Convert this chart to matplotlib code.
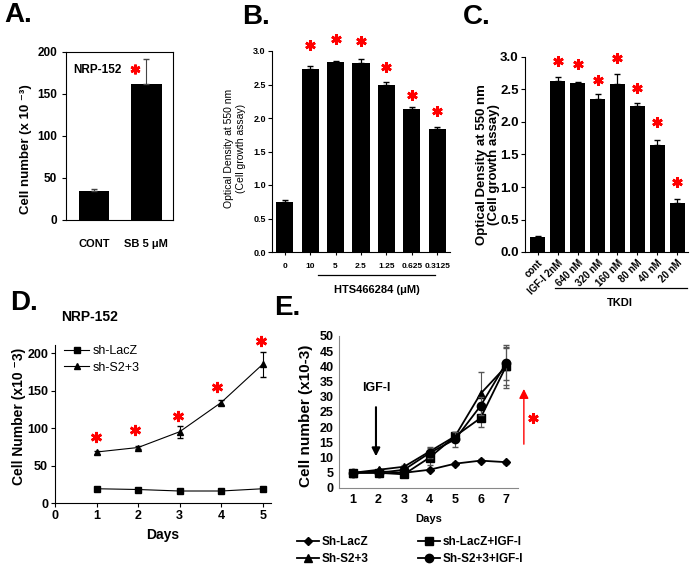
import numpy as np
import matplotlib
matplotlib.use("Agg")
import matplotlib.pyplot as plt

plt.rcParams['font.family'] = ['Liberation Sans', 'DejaVu Sans']

W, H = 692, 567

# ---- data ----
# A
a_labels = ['CONT', 'SB 5 \u03bcM']
a_vals = [35, 162]
a_err = [2, 30]

# B
b_labels = ['0', '10', '5', '2.5', '1.25', '0.625', '0.3125']
b_vals = [0.74, 2.73, 2.84, 2.82, 2.50, 2.14, 1.83]
b_err = [0.03, 0.04, 0.01, 0.06, 0.03, 0.03, 0.03]
b_star_idx = [1, 2, 3, 4, 5, 6]
b_star_y = [3.09, 3.18, 3.15, 2.76, 2.34, 2.10]

# C
c_labels = ['cont', 'IGF-I 2nM', '640 nM', '320 nM', '160 nM', '80 nM', '40 nM', '20 nM']
c_vals = [0.23, 2.63, 2.60, 2.35, 2.58, 2.24, 1.64, 0.76]
c_err = [0.01, 0.06, 0.02, 0.08, 0.16, 0.05, 0.09, 0.06]
c_star_idx = [1, 2, 3, 4, 5, 6, 7]
c_star_y = [2.94, 2.89, 2.65, 2.98, 2.53, 2.00, 1.07]

# D
d_days = [1, 2, 3, 4, 5]
d_lacz = [19, 18, 16, 16, 19]
d_lacz_err = [1, 1, 1, 1, 1]
d_s23 = [68, 74, 95, 134, 185]
d_s23_err = [2, 2, 8, 3, 17]
d_star_x = [0.99, 1.92, 2.96, 3.9, 4.97]
d_star_y = [88, 98, 116, 155, 216]

# E
e_days = [1, 2, 3, 4, 5, 6, 7]
e_lacz = [5, 5.5, 5, 6, 8, 9, 8.5]
e_lacz_err = [0, 0, 0, 0.5, 0.5, 0.5, 0.5]
e_s23 = [5, 6, 7, 12, 17, 31, 40]
e_s23_err = [0, 0, 0.5, 1.5, 1.5, 7, 6]
e_lacz_igf = [5, 5, 4.5, 10, 17, 23, 40]
e_lacz_igf_err = [0, 0, 0.5, 2.5, 1, 3, 7]
e_s23_igf = [5, 5, 6, 11.5, 16, 27, 41]
e_s23_igf_err = [0, 0, 0.5, 1.5, 2.5, 3, 5.5]


def box(l, t, r, b):
    return [l / W, 1 - b / H, (r - l) / W, (b - t) / H]


def fx(x):
    return x / W


def fy(y):
    return 1 - y / H


def stars(ax, xs, ys, ms=7.5):
    ax.plot(xs, ys, linestyle='none', marker=(6, 2, 0), ms=ms, mew=1.9,
            color='red', clip_on=False, zorder=5)


fig = plt.figure(figsize=(W / 100, H / 100), dpi=100)

# ---------------- A ----------------
ax = fig.add_axes(box(66, 52, 173, 220))
xa = np.arange(len(a_vals))
ax.bar(xa, a_vals, width=0.58, color='black')
ax.errorbar(xa, a_vals, yerr=[[0, 0], a_err], fmt='none', ecolor='#444444',
            elinewidth=0.8, capsize=2)
ax.set_xlim(-0.54, 1.51)
ax.set_ylim(0, 200)
ax.set_yticks([0, 50, 100, 150, 200])
ax.set_xticks(xa)
ax.set_xticklabels(a_labels, fontsize=8, fontweight='bold')
ax.tick_params(axis='x', length=0, pad=14)
ax.tick_params(axis='y', length=3, labelsize=8.5, width=0.8)
for t in ax.get_yticklabels():
    t.set_fontweight('bold')
for s in ax.spines.values():
    s.set_linewidth(0.8)
ax.text(0.07, 0.93, 'NRP-152', transform=ax.transAxes, fontsize=8.5,
        fontweight='bold', va='top')
stars(ax, [0.79], [180], ms=7)
fig.text(fx(26), fy(149), 'Cell number (x 10 \u207b\u00b3)', rotation=90,
         ha='center', va='center', fontsize=9.5, fontweight='bold')

# ---------------- B ----------------
ax = fig.add_axes(box(272, 51, 450, 252))
xb = np.arange(len(b_vals))
ax.bar(xb, b_vals, width=0.67, color='black')
ax.errorbar(xb, b_vals, yerr=[[0] * len(b_err), b_err], fmt='none',
            ecolor='black', elinewidth=0.9, capsize=2.5)
ax.set_xlim(-0.5, 6.5)
ax.set_ylim(0, 3)
ax.set_yticks(np.arange(0, 3.01, 0.5))
ax.set_yticklabels(['%.1f' % v for v in np.arange(0, 3.01, 0.5)])
ax.set_xticks(xb)
ax.set_xticklabels(b_labels)
ax.spines['top'].set_visible(False)
ax.spines['right'].set_visible(False)
ax.tick_params(axis='y', length=3, labelsize=6.5, pad=1.5)
ax.tick_params(axis='x', length=2, labelsize=6, pad=6)
for t in ax.get_xticklabels() + ax.get_yticklabels():
    t.set_fontweight('bold')
stars(ax, b_star_idx, b_star_y)
trans = ax.get_xaxis_transform()
ax.plot([1.3, 5.9], [-0.114, -0.114], color='black', lw=0.9,
        transform=trans, clip_on=False)
ax.text(3.62, -0.19, 'HTS466284 (\u03bcM)', transform=trans, ha='center',
        va='center', fontsize=8, fontweight='bold')
fig.text(fx(235), fy(148), 'Optical Density at 550 nm\n(Cell growth assay)',
         rotation=90, ha='center', va='center', fontsize=7.5,
         linespacing=1.2)

# ---------------- C ----------------
ax = fig.add_axes(box(525, 57, 688, 252))
xc = np.arange(len(c_vals))
ax.bar(xc, c_vals, width=0.75, color='black')
ax.errorbar(xc, c_vals, yerr=[[0] * len(c_err), c_err], fmt='none',
            ecolor='black', elinewidth=0.9, capsize=2.5)
ax.set_xlim(-0.65, 7.55)
ax.set_ylim(0, 3)
ax.set_yticks(np.arange(0, 3.01, 0.5))
ax.set_yticklabels(['%.1f' % v for v in np.arange(0, 3.01, 0.5)])
ax.set_xticks(xc)
ax.set_xticklabels(c_labels, rotation=45, ha='right', rotation_mode='anchor')
ax.spines['top'].set_visible(False)
ax.spines['right'].set_visible(False)
ax.tick_params(axis='y', length=3, labelsize=9.5, pad=1.5)
ax.tick_params(axis='x', length=2, labelsize=7, pad=2)
for t in ax.get_xticklabels() + ax.get_yticklabels():
    t.set_fontweight('bold')
stars(ax, c_star_idx, c_star_y)
trans = ax.get_xaxis_transform()
ax.plot([0.85, 7.5], [-0.185, -0.185], color='black', lw=0.9,
        transform=trans, clip_on=False)
ax.text(4.1, -0.26, 'TKDI', transform=trans, ha='center', va='center',
        fontsize=8, fontweight='bold')
fig.text(fx(488), fy(165), 'Optical Density at 550 nm\n(Cell growth assay)',
         rotation=90, ha='center', va='center', fontsize=9.5,
         fontweight='bold', linespacing=1.1)

# ---------------- D ----------------
ax = fig.add_axes(box(55, 345, 271, 503))
ax.errorbar(d_days, d_lacz, yerr=d_lacz_err, fmt='none', ecolor='black',
            elinewidth=0.8, capsize=2)
ax.errorbar(d_days, d_s23, yerr=d_s23_err, fmt='none', ecolor='black',
            elinewidth=0.8, capsize=2)
ax.plot(d_days, d_lacz, color='black', lw=0.8, marker='s', ms=5,
        label='sh-LacZ')
ax.plot(d_days, d_s23, color='black', lw=0.8, marker='^', ms=5,
        label='sh-S2+3')
ax.set_xlim(0, 5.2)
ax.set_ylim(0, 210.7)
ax.set_xticks([0, 1, 2, 3, 4, 5])
ax.set_yticks([0, 50, 100, 150, 200])
ax.spines['top'].set_visible(False)
ax.spines['right'].set_visible(False)
ax.tick_params(length=3, labelsize=9, pad=2)
for t in ax.get_xticklabels() + ax.get_yticklabels():
    t.set_fontweight('bold')
stars(ax, d_star_x, d_star_y, ms=8)
ax.set_xlabel('Days', fontsize=10, fontweight='bold', labelpad=4)
ax.legend(loc='upper left', bbox_to_anchor=(0.02, 1.03), frameon=False,
          fontsize=9, handlelength=2.0, handletextpad=0.3, borderaxespad=0,
          labelspacing=0.35)
ax.text(0.03, 1.18, 'NRP-152', transform=ax.transAxes, fontsize=10,
        fontweight='bold', va='center')
fig.text(fx(19), fy(416), 'Cell Number (x10 \u207b3)', rotation=90,
         ha='center', va='center', fontsize=10, fontweight='bold')

# ---------------- E ----------------
ax = fig.add_axes(box(339, 336, 518, 488))
series = [(e_lacz, e_lacz_err, 'D', 4.5, 'Sh-LacZ'),
          (e_s23, e_s23_err, '^', 6, 'Sh-S2+3'),
          (e_lacz_igf, e_lacz_igf_err, 's', 6, 'sh-LacZ+IGF-I'),
          (e_s23_igf, e_s23_igf_err, 'o', 6, 'Sh-S2+3+IGF-I')]
handles = []
for vals, err, mk, ms, lab in series:
    ax.errorbar(e_days, vals, yerr=err, fmt='none', ecolor='#555555',
                elinewidth=0.8, capsize=2)
    h, = ax.plot(e_days, vals, color='black', lw=1.3, marker=mk, ms=ms,
                 label=lab)
    handles.append(h)
ax.set_xlim(0.45, 7.47)
ax.set_ylim(0, 50)
ax.set_xticks(e_days)
ax.set_yticks(np.arange(0, 51, 5))
ax.spines['top'].set_visible(False)
ax.spines['right'].set_visible(False)
ax.spines['left'].set_color('#888888')
ax.spines['bottom'].set_color('#888888')
ax.tick_params(length=0, labelsize=9, pad=4)
for t in ax.get_xticklabels() + ax.get_yticklabels():
    t.set_fontweight('bold')
ax.set_xlabel('Days', fontsize=8, fontweight='bold', labelpad=6)
ax.annotate('', xy=(1.9, 9.5), xytext=(1.9, 27.5),
            arrowprops=dict(arrowstyle='-|>', color='black', lw=1.5,
                            mutation_scale=12))
ax.text(1.9, 33, 'IGF-I', ha='center', va='center', fontsize=9,
        fontweight='bold')
ax.annotate('', xy=(7.7, 33.5), xytext=(7.7, 13.5), annotation_clip=False,
            arrowprops=dict(arrowstyle='-|>', color='red', lw=1.0,
                            mutation_scale=14))
stars(ax, [8.06], [23], ms=7.5)
fig.text(fx(306), fy(416), 'Cell number (x10-3)', rotation=90, ha='center',
         va='center', fontsize=11, fontweight='bold')
fig.legend(handles, [h.get_label() for h in handles],
           ncol=2, loc='upper left', bbox_to_anchor=(fx(292), fy(531)),
           frameon=False, handlelength=1.9, handletextpad=0.2,
           columnspacing=4.2, labelspacing=0.45, borderaxespad=0,
           prop=dict(size=8.5, weight='bold'))

# ---------------- panel letters ----------------
for letter, x, y in [('A.', 18, 15), ('B.', 256, 17), ('C.', 477, 17),
                     ('D.', 24, 303), ('E.', 287, 308)]:
    fig.text(fx(x), fy(y), letter, fontsize=20, fontweight='bold',
             ha='center', va='center')

fig.savefig('out.png', dpi=100)
